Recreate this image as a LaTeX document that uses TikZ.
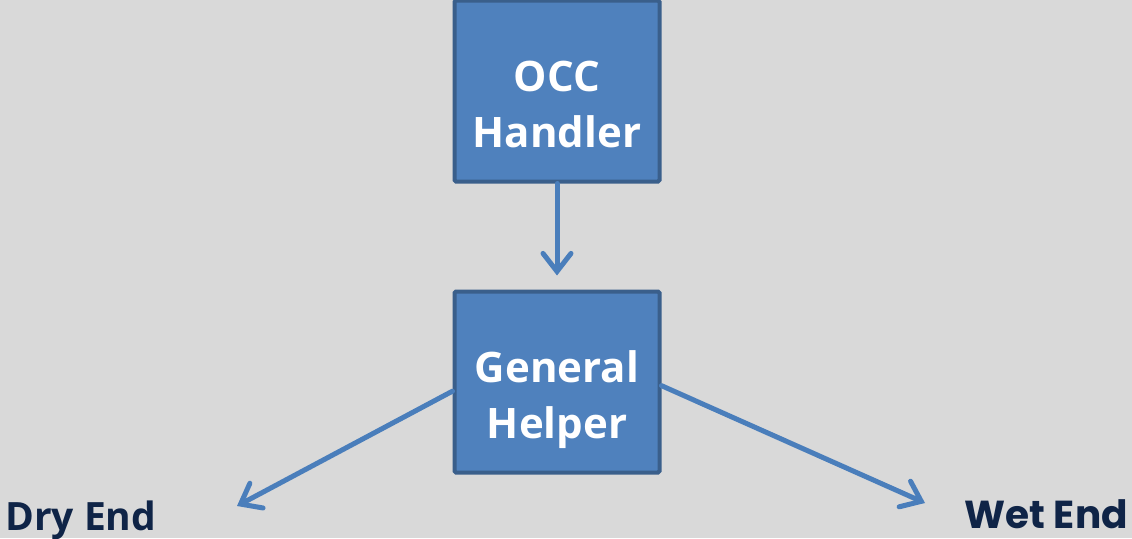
\documentclass[tikz,border=0pt]{standalone}
\usepackage{fontspec}
\setmainfont{Open Sans}
\newfontfamily\wetfont{Poppins}
\usetikzlibrary{positioning, arrows.meta}

\definecolor{boxfill}{HTML}{4F81BD}
\definecolor{boxline}{HTML}{3A5F8B}
\definecolor{arrowblue}{HTML}{4A7EBB}
\definecolor{endtext}{HTML}{0F2447}
\definecolor{backgray}{HTML}{D9D9D9}

\begin{document}
\begin{tikzpicture}[x=1pt, y=1pt, node distance=291pt,
    >={Straight Barb[length=18pt, width=28pt, line cap=round]}]
  \tikzstyle{block} = [draw=boxline, fill=boxfill, line width=4pt, rectangle,
    rounded corners=1.5pt, minimum width=205pt, minimum height=181pt,
    text=white, font=\bfseries\fontsize{42}{56}\selectfont, align=center,
    text height=112pt, text depth=0pt]
  \tikzstyle{link} = [->, draw=arrowblue, line width=5pt, line cap=round]
  \tikzstyle{endlabel} = [text=endtext, font=\bfseries\fontsize{39}{46}\selectfont, inner sep=0pt]

  \fill[backgray] (0,0) rectangle (1132,-538);
  \useasboundingbox (0,0) rectangle (1132,-538);

  \node [block] (occ) at (557,-91) {OCC\\Handler};
  \node [block, below of=occ] (general) {General\\Helper};
  \node [endlabel, anchor=base west] (dry) at (5,-530) {Dry End};
  \node [endlabel, anchor=base east, font=\wetfont\bfseries\fontsize{39}{46}\selectfont] (wet) at (1128,-528) {Wet End};
  \coordinate (dryend) at (237,-506);
  \coordinate (wetend) at (925,-503);

  \draw [link, shorten >=14pt] (occ) -- (general);
  \draw [link] (general.185) -- (dryend);
  \draw [link] (general.-2) -- (wetend);
\end{tikzpicture}
\end{document}
